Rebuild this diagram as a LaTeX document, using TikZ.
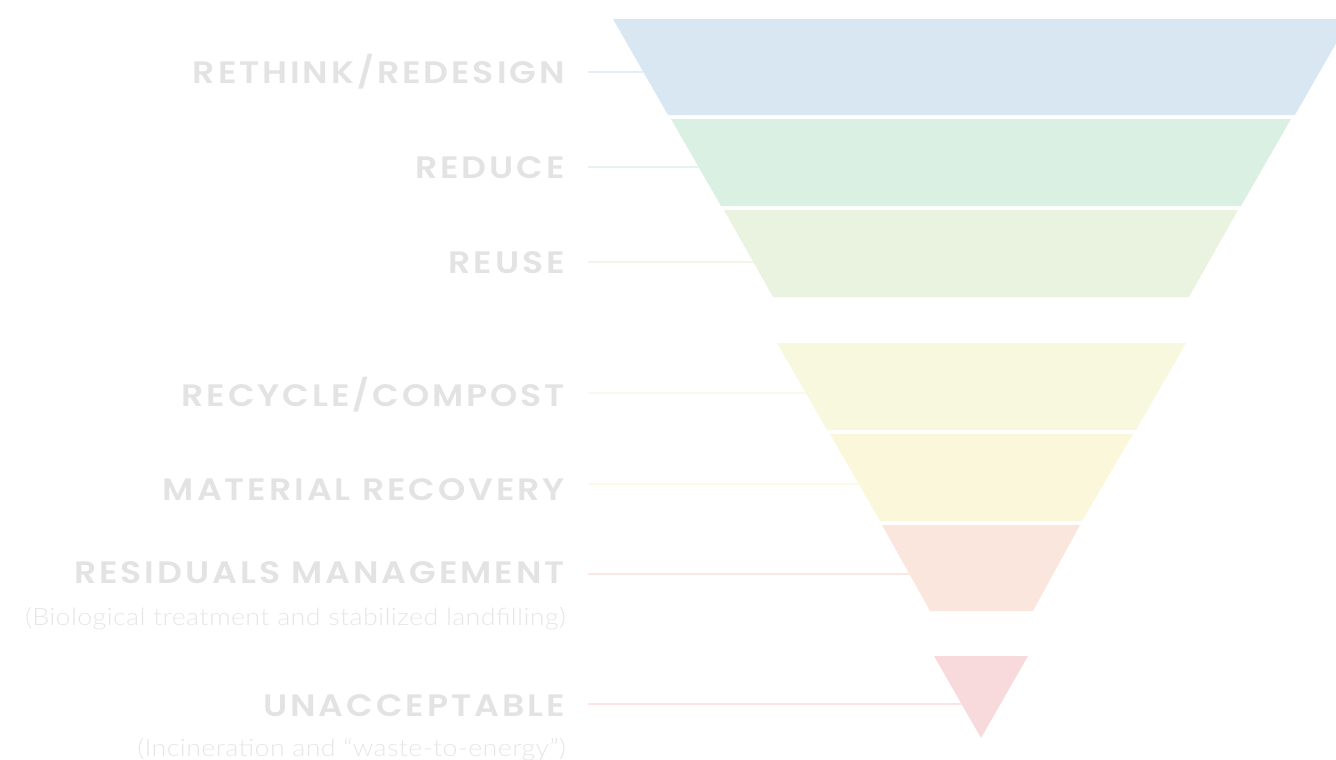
\documentclass[tikz,border=0pt]{standalone}
\usepackage{fontspec}
\setmainfont{Lato}
\newfontfamily\lblfont{Poppins SemiBold}[LetterSpace=9.5,FakeStretch=1.12]
\newfontfamily\subfont{Lato Light}[LetterSpace=1.5,FakeStretch=1.12]
\usetikzlibrary{calc}
\definecolor{cBlue}{HTML}{D9E7F2}
\definecolor{cGreen}{HTML}{DAF0E2}
\definecolor{cReuse}{HTML}{EAF2E0}
\definecolor{cRecycle}{HTML}{F7F8DD}
\definecolor{cMaterial}{HTML}{FBF7DA}
\definecolor{cResidual}{HTML}{FBE6DD}
\definecolor{cUnaccept}{HTML}{F8DADD}
\definecolor{lBlue}{HTML}{E4EEF8}
\definecolor{lGreen}{HTML}{E4F3EC}
\definecolor{lReuse}{HTML}{F1F6E6}
\definecolor{lRecycle}{HTML}{F9FAEA}
\definecolor{lMaterial}{HTML}{FCF8E8}
\definecolor{lResidual}{HTML}{FCE8E2}
\definecolor{lUnaccept}{HTML}{FBE4E6}
\definecolor{labelgray}{HTML}{E3E3E3}
\definecolor{subgray}{HTML}{E6E6E6}
\begin{document}
\begin{tikzpicture}[x=1pt,y=-1pt,
  band/.style={fill=#1, draw=none},
  lbl/.style={anchor=base east, text=labelgray, inner sep=0pt,
    font=\lblfont\fontsize{31}{31}\selectfont},
  sublbl/.style={anchor=base east, text=subgray, inner sep=0pt,
    font=\subfont\fontsize{24}{24}\selectfont},
  leader/.style={draw=#1, line width=1.6pt}]
\useasboundingbox (0,0) rectangle (1336,760);
\clip (0,0) rectangle (1336,760);

% connector start points
\coordinate (a1) at (588,72);
\coordinate (a2) at (588,167);
\coordinate (a3) at (588,262);
\coordinate (a4) at (588,393);
\coordinate (a5) at (588,484);
\coordinate (a6) at (588,574);
\coordinate (a7) at (588,704);

% band corners
\coordinate (b1tl) at (613,19);  \coordinate (b1tr) at (1350,19);
\coordinate (b1br) at (1295,115); \coordinate (b1bl) at (668,115);
\coordinate (b2tl) at (671,119); \coordinate (b2tr) at (1291,119);
\coordinate (b2br) at (1241,206); \coordinate (b2bl) at (721,206);
\coordinate (b3tl) at (724,210); \coordinate (b3tr) at (1238,210);
\coordinate (b3br) at (1189,297); \coordinate (b3bl) at (773,297);
\coordinate (b4tl) at (777,343); \coordinate (b4tr) at (1186,343);
\coordinate (b4br) at (1136,430); \coordinate (b4bl) at (827,430);
\coordinate (b5tl) at (830,434); \coordinate (b5tr) at (1133,434);
\coordinate (b5br) at (1082,521); \coordinate (b5bl) at (880,521);
\coordinate (b6tl) at (882,525); \coordinate (b6tr) at (1080,525);
\coordinate (b6br) at (1033,611); \coordinate (b6bl) at (930,611);
\coordinate (b7tl) at (934,656); \coordinate (b7tr) at (1028,656);
\coordinate (b7b) at (981,738);

% connector end points on left edges
\coordinate (e1) at ($(b1tl)!0.552!(b1bl)$);
\coordinate (e2) at ($(b2tl)!0.552!(b2bl)$);
\coordinate (e3) at ($(b3tl)!0.598!(b3bl)$);
\coordinate (e4) at ($(b4tl)!0.575!(b4bl)$);
\coordinate (e5) at ($(b5tl)!0.575!(b5bl)$);
\coordinate (e6) at ($(b6tl)!0.570!(b6bl)$);
\coordinate (e7) at ($(b7tl)!0.585!(b7b)$);

% connectors
\draw[leader=lBlue] (a1) -- (e1);
\draw[leader=lGreen] (a2) -- (e2);
\draw[leader=lReuse] (a3) -- (e3);
\draw[leader=lRecycle] (a4) -- (e4);
\draw[leader=lMaterial] (a5) -- (e5);
\draw[leader=lResidual] (a6) -- (e6);
\draw[leader=lUnaccept] (a7) -- (e7);

% bands
\path[band=cBlue] (b1tl) -- (b1tr) -- (b1br) -- (b1bl) -- cycle;
\path[band=cGreen] (b2tl) -- (b2tr) -- (b2br) -- (b2bl) -- cycle;
\path[band=cReuse] (b3tl) -- (b3tr) -- (b3br) -- (b3bl) -- cycle;
\path[band=cRecycle] (b4tl) -- (b4tr) -- (b4br) -- (b4bl) -- cycle;
\path[band=cMaterial] (b5tl) -- (b5tr) -- (b5br) -- (b5bl) -- cycle;
\path[band=cResidual] (b6tl) -- (b6tr) -- (b6br) -- (b6bl) -- cycle;
\path[band=cUnaccept] (b7tl) -- (b7tr) -- (b7b) -- cycle;

% labels
\node[lbl] (l1) at (565,84) {RETHINK/REDESIGN};
\node[lbl] (l2) at (565,178) {REDUCE};
\node[lbl] (l3) at (565,273.5) {REUSE};
\node[lbl] (l4) at (565,406.5) {RECYCLE/COMPOST};
\node[lbl] (l5) at (565,500) {MATERIAL RECOVERY};
\node[lbl] (l6) at (565,583.5) {RESIDUALS MANAGEMENT};
\node[sublbl] (l6s) at (566,625) {(Biological treatment and stabilized landfilling)};
\node[lbl] (l7) at (565,716.5) {UNACCEPTABLE};
\node[sublbl] (l7s) at (566,756) {(Incineration and “waste-to-energy”)};
\end{tikzpicture}
\end{document}
